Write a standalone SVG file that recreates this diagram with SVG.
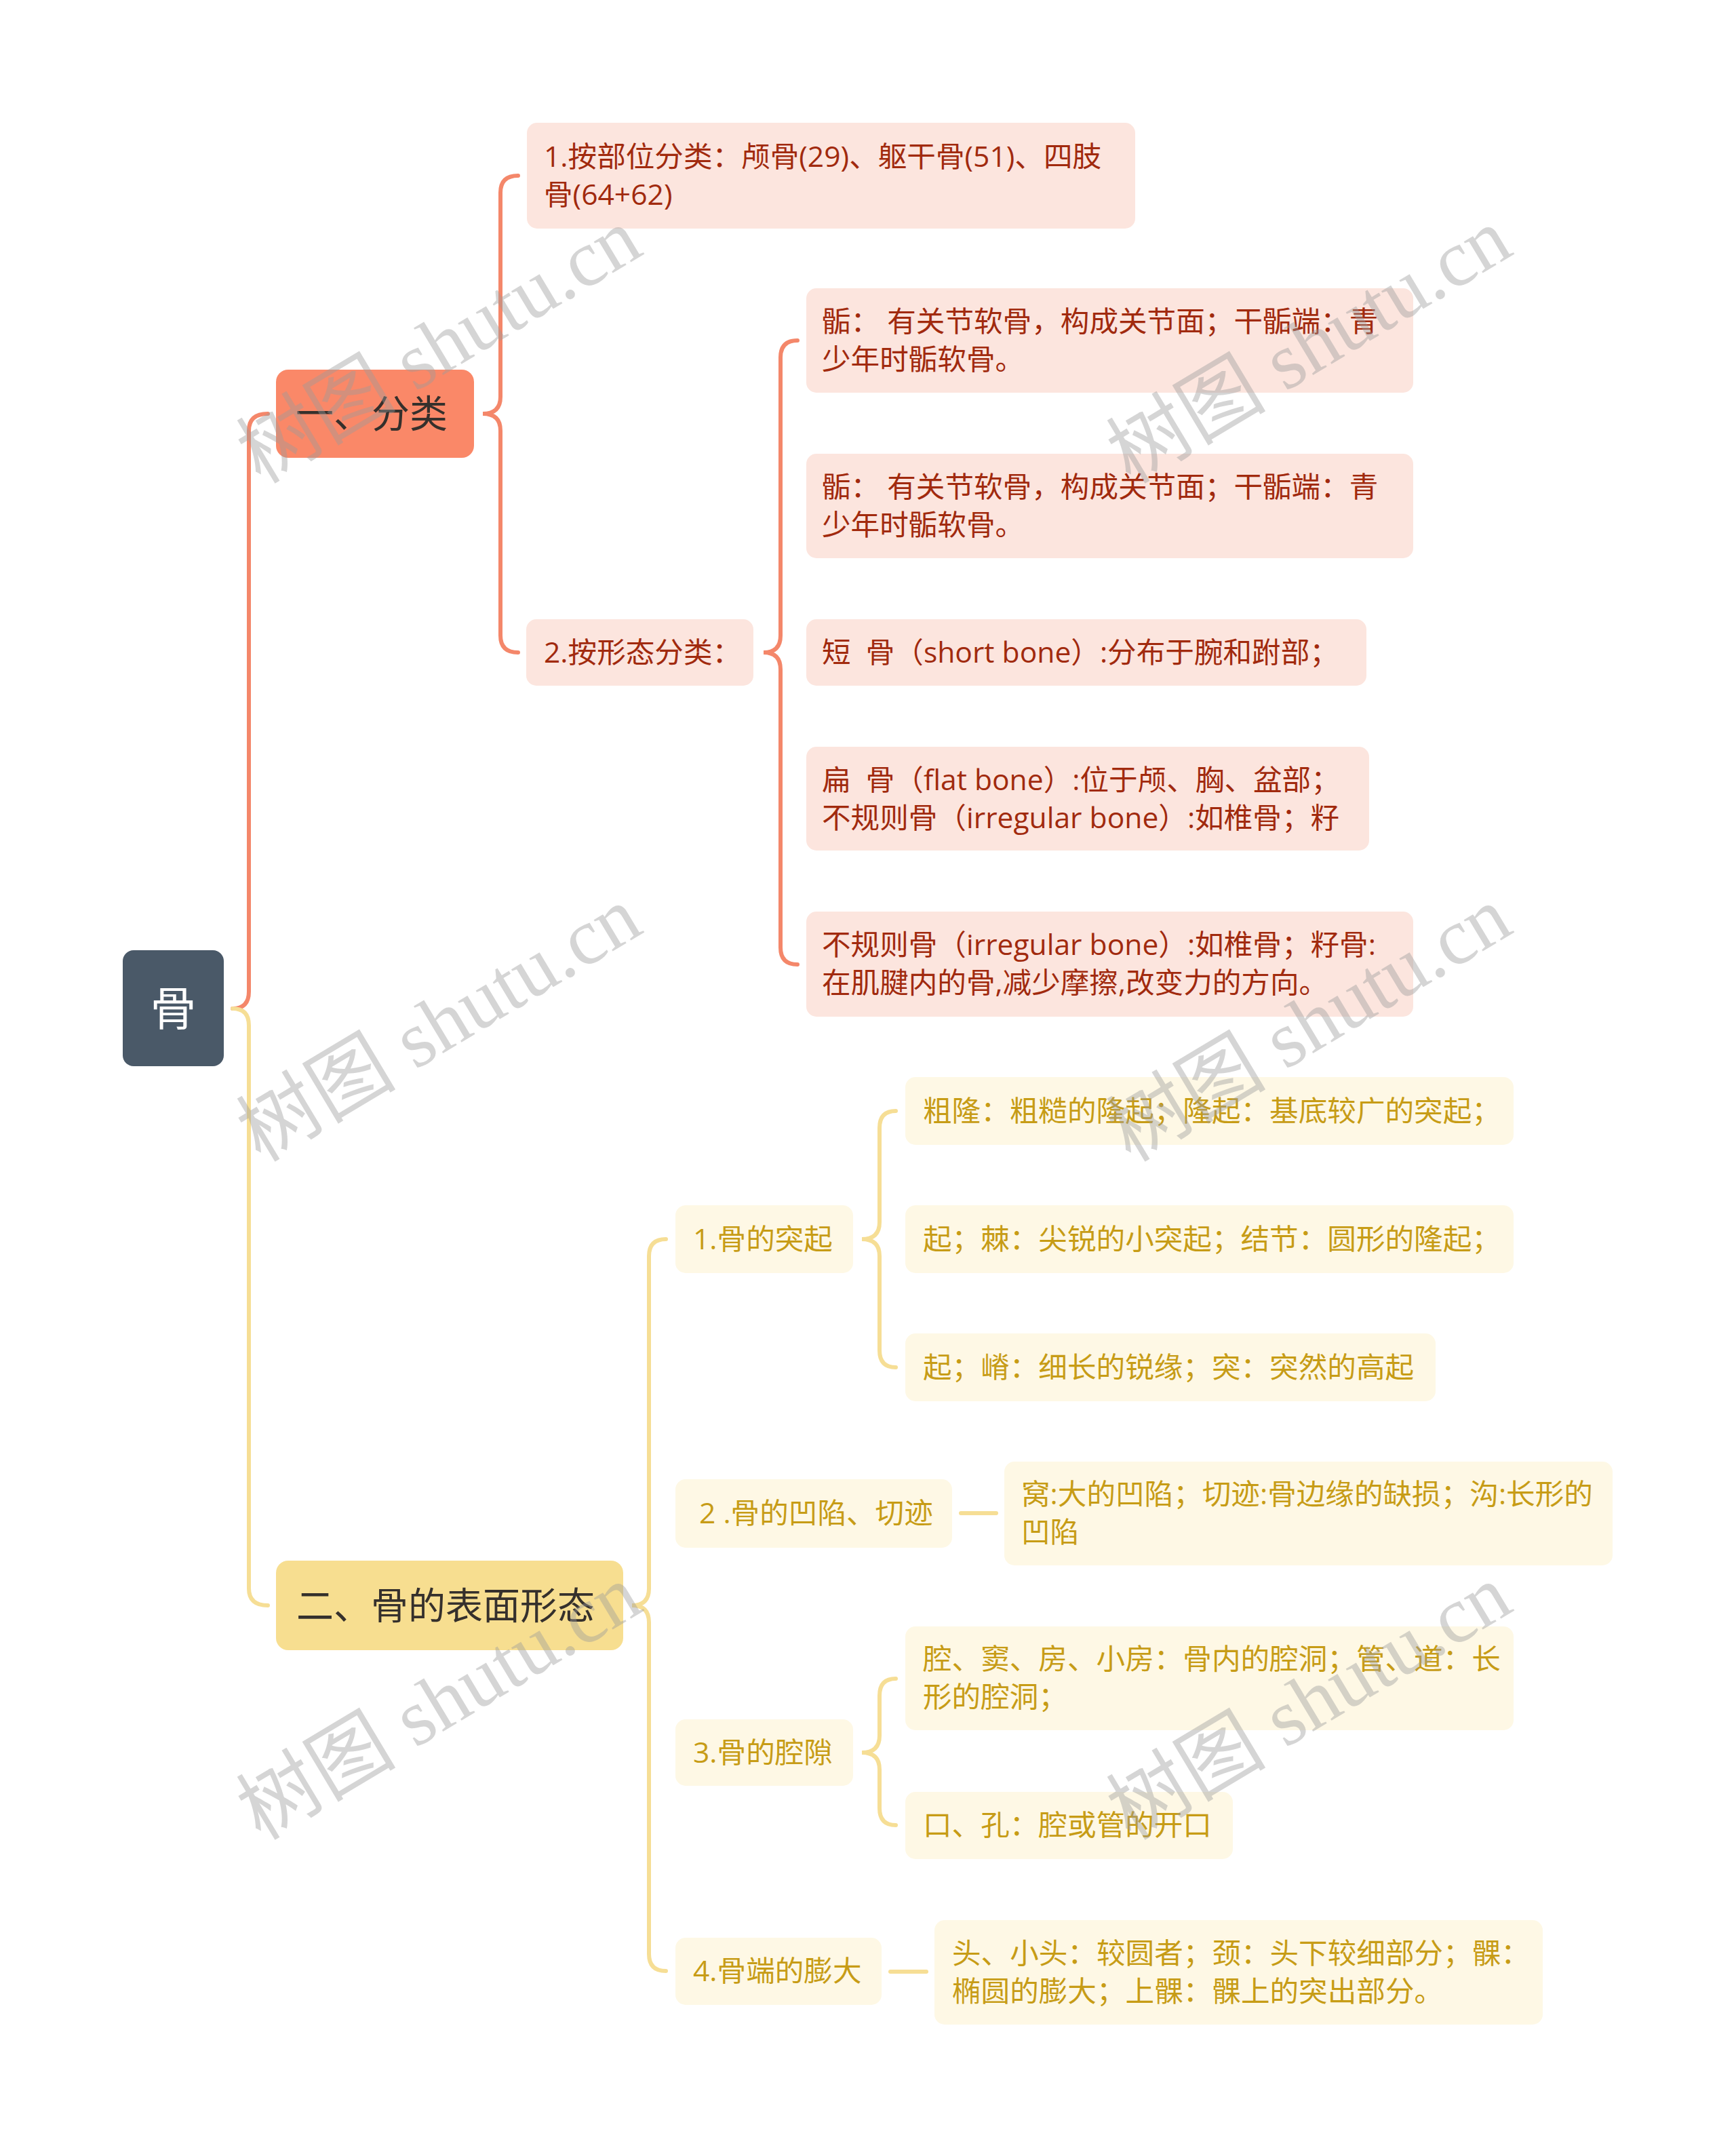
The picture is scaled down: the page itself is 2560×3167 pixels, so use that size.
<svg xmlns="http://www.w3.org/2000/svg" width="2560" height="3167" viewBox="0 0 2560 3167">
<style>
.t{font-family:"Open Sans","Noto Sans CJK SC",sans-serif;}
.cO{fill:#FCE5DE;}
.cY{fill:#FEF8E5;}
.tO{font-size:42.6px;fill:#A12A0E;}
.tY{font-size:42.6px;fill:#C79C16;}
.lo{fill:none;stroke:#F4876A;stroke-width:6;stroke-linecap:round;}
.ly{fill:none;stroke:#F6DE95;stroke-width:6;stroke-linecap:round;}
.wm{font-family:"Liberation Serif","Noto Sans CJK SC",serif;font-size:118px;fill:#9a9a9a;fill-opacity:0.42;}
</style>
<rect width="2560" height="3167" fill="#ffffff"/>
<g id="connectors">
<path class="lo" d="M 343 1487 Q 367 1487 367 1462 L 367 635 Q 367 610 395 610"/>
<path class="ly" d="M 343 1487 Q 367 1487 367 1512 L 367 2342 Q 367 2367 395 2367"/>
<path class="lo" d="M 764 259 Q 738 259 738 284 L 738 585 Q 738 610 712 610 Q 738 610 738 635 L 738 937 Q 738 962 764 962"/>
<path class="lo" d="M 1176 502 Q 1151 502 1151 527 L 1151 937 Q 1151 962 1126 962 Q 1151 962 1151 987 L 1151 1397 Q 1151 1422 1176 1422"/>
<path class="ly" d="M 982 1827 Q 957 1827 957 1852 L 957 2342 Q 957 2367 932 2367 Q 957 2367 957 2392 L 957 2881 Q 957 2906 982 2906"/>
<path class="ly" d="M 1321 1638 Q 1297 1638 1297 1663 L 1297 1802 Q 1297 1827 1271 1827 Q 1297 1827 1297 1852 L 1297 1991 Q 1297 2016 1321 2016"/>
<path class="ly" d="M 1321 2475 Q 1297 2475 1297 2500 L 1297 2559 Q 1297 2584 1271 2584 Q 1297 2584 1297 2609 L 1297 2666 Q 1297 2691 1321 2691"/>
<path class="ly" d="M 1417 2231 L 1469 2231"/>
<path class="ly" d="M 1313 2907 L 1366 2907"/>
</g>
<g id="root">
<rect x="181" y="1401" width="149" height="171" rx="16" fill="#4A5968"/>
<text class="t" x="255.5" y="1512" font-size="68" fill="#ffffff" text-anchor="middle">骨</text>
</g>
<g id="n-fenlei">
<rect x="407" y="545" width="292" height="130" rx="18" fill="#FA8868"/>
<text class="t" x="436" y="630" font-size="56" fill="#35302c">一、分类</text>
</g>
<g id="n-biaomian">
<rect x="407" y="2301" width="512" height="132" rx="18" fill="#F7DE90"/>
<text class="t" x="437" y="2387" font-size="55" fill="#35302c">二、骨的表面形态</text>
</g>
<g id="a1">
<rect class="cO" x="777" y="181" width="897" height="156" rx="15"/>
<text class="t tO" x="802" y="246">1.按部位分类：颅骨(29)、躯干骨(51)、四肢</text>
<text class="t tO" x="802" y="302">骨(64+62)</text>
</g>
<g id="a2">
<rect class="cO" x="776" y="913" width="335" height="98" rx="15"/>
<text class="t tO" x="802" y="977">2.按形态分类：</text>
</g>
<g id="b1">
<rect class="cO" x="1189" y="425" width="895" height="154" rx="15"/>
<text class="t tO" x="1212" y="489" xml:space="preserve">骺： 有关节软骨，构成关节面；干骺端：青</text>
<text class="t tO" x="1212" y="545">少年时骺软骨。</text>
</g>
<g id="b2">
<rect class="cO" x="1189" y="669" width="895" height="154" rx="15"/>
<text class="t tO" x="1212" y="733" xml:space="preserve">骺： 有关节软骨，构成关节面；干骺端：青</text>
<text class="t tO" x="1212" y="789">少年时骺软骨。</text>
</g>
<g id="b3">
<rect class="cO" x="1189" y="913" width="826" height="98" rx="15"/>
<text class="t tO" x="1212" y="977" xml:space="preserve">短  骨（short bone）:分布于腕和跗部；</text>
</g>
<g id="b4">
<rect class="cO" x="1189" y="1101" width="830" height="153" rx="15"/>
<text class="t tO" x="1212" y="1165" xml:space="preserve">扁  骨（flat bone）:位于颅、胸、盆部；</text>
<text class="t tO" x="1212" y="1221">不规则骨（irregular bone）:如椎骨；籽</text>
</g>
<g id="b5">
<rect class="cO" x="1189" y="1344" width="895" height="155" rx="15"/>
<text class="t tO" x="1212" y="1408">不规则骨（irregular bone）:如椎骨；籽骨:</text>
<text class="t tO" x="1212" y="1464">在肌腱内的骨,减少摩擦,改变力的方向。</text>
</g>
<g id="c1">
<rect class="cY" x="996" y="1777" width="262" height="100" rx="15"/>
<text class="t tY" x="1022" y="1842">1.骨的突起</text>
</g>
<g id="c2">
<rect class="cY" x="996" y="2181" width="408" height="101" rx="15"/>
<text class="t tY" x="1031" y="2246">2 .骨的凹陷、切迹</text>
</g>
<g id="c3">
<rect class="cY" x="996" y="2535" width="262" height="98" rx="15"/>
<text class="t tY" x="1022" y="2599">3.骨的腔隙</text>
</g>
<g id="c4">
<rect class="cY" x="996" y="2857" width="304" height="99" rx="15"/>
<text class="t tY" x="1022" y="2921">4.骨端的膨大</text>
</g>
<g id="d1">
<rect class="cY" x="1335" y="1588" width="897" height="100" rx="15"/>
<text class="t tY" x="1361" y="1653">粗隆：粗糙的隆起；隆起：基底较广的突起；</text>
</g>
<g id="d2">
<rect class="cY" x="1335" y="1777" width="897" height="100" rx="15"/>
<text class="t tY" x="1361" y="1842">起；棘：尖锐的小突起；结节：圆形的隆起；</text>
</g>
<g id="d3">
<rect class="cY" x="1335" y="1966" width="782" height="100" rx="15"/>
<text class="t tY" x="1361" y="2031">起；嵴：细长的锐缘；突：突然的高起</text>
</g>
<g id="d4">
<rect class="cY" x="1481" y="2155" width="897" height="153" rx="15"/>
<text class="t tY" x="1506" y="2218">窝:大的凹陷；切迹:骨边缘的缺损；沟:长形的</text>
<text class="t tY" x="1506" y="2274">凹陷</text>
</g>
<g id="d5">
<rect class="cY" x="1335" y="2398" width="897" height="153" rx="15"/>
<text class="t tY" x="1361" y="2461">腔、窦、房、小房：骨内的腔洞；管、道：长</text>
<text class="t tY" x="1361" y="2517">形的腔洞；</text>
</g>
<g id="d6">
<rect class="cY" x="1335" y="2642" width="483" height="99" rx="15"/>
<text class="t tY" x="1361" y="2706">口、孔：腔或管的开口</text>
</g>
<g id="d7">
<rect class="cY" x="1378" y="2831" width="897" height="154" rx="15"/>
<text class="t tY" x="1404" y="2895">头、小头：较圆者；颈：头下较细部分；髁：</text>
<text class="t tY" x="1404" y="2951">椭圆的膨大；上髁：髁上的突出部分。</text>
</g>
<g id="watermarks">
<text class="wm" x="647" y="550" text-anchor="middle" transform="rotate(-31 647 509)">树图 shutu.cn</text>
<text class="wm" x="1930" y="550" text-anchor="middle" transform="rotate(-31 1930 509)">树图 shutu.cn</text>
<text class="wm" x="647" y="1550" text-anchor="middle" transform="rotate(-31 647 1509)">树图 shutu.cn</text>
<text class="wm" x="1930" y="1550" text-anchor="middle" transform="rotate(-31 1930 1509)">树图 shutu.cn</text>
<text class="wm" x="647" y="2550" text-anchor="middle" transform="rotate(-31 647 2509)">树图 shutu.cn</text>
<text class="wm" x="1930" y="2550" text-anchor="middle" transform="rotate(-31 1930 2509)">树图 shutu.cn</text>
</g>
</svg>
